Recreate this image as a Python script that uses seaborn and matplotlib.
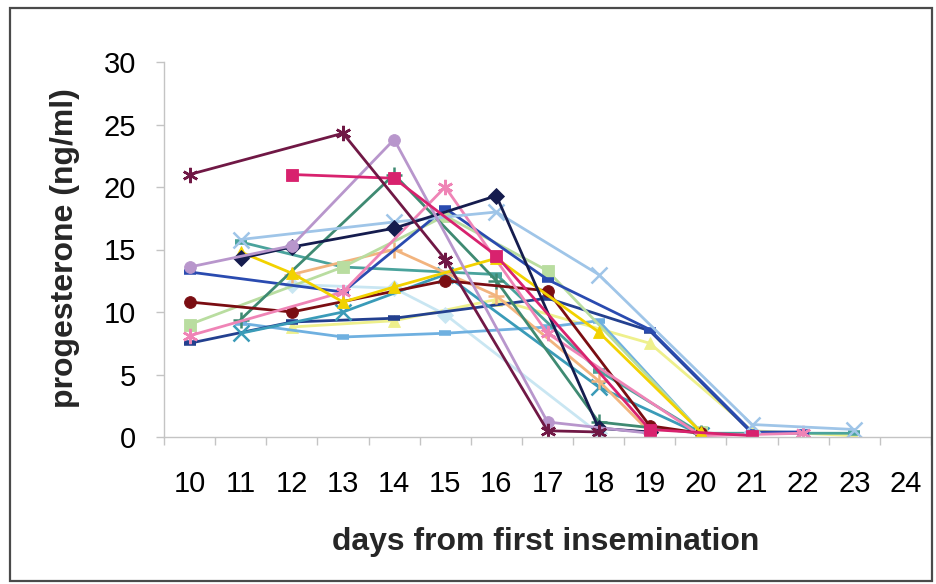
import numpy as np
import pandas as pd
import matplotlib
matplotlib.use("Agg")
import matplotlib.pyplot as plt
from matplotlib.patches import Rectangle
import seaborn as sns

# Progesterone profiles per cow (ng/ml), keyed by day from first insemination
days = list(range(10, 25))
day_labels = [str(d) for d in days]

cow_a = {10: 21.0, 13: 24.3, 15: 14.2, 17: 0.5, 18: 0.4}
cow_b = {12: 21.0, 14: 20.7, 16: 14.5, 19: 0.6, 21: 0.1}
cow_c = {11: 14.8, 12: 13.1, 13: 10.8, 14: 12.0, 16: 14.3, 18: 8.4, 20: 0.4}
cow_d = {11: 15.8, 14: 17.2, 16: 18.0, 18: 13.0, 21: 1.0, 23: 0.6}
cow_e = {11: 14.3, 12: 15.2, 14: 16.7, 16: 19.3, 18: 0.7, 19: 0.4}
cow_f = {10: 10.8, 12: 10.0, 15: 12.5, 17: 11.7, 19: 0.9, 20: 0.3}
cow_g = {11: 9.4, 14: 21.0, 16: 12.5, 18: 1.2, 20: 0.3}
cow_h = {10: 13.2, 13: 11.6, 15: 18.3, 17: 12.6, 19: 8.6, 21: 0.4, 22: 0.4}
cow_i = {10: 7.5, 12: 9.2, 14: 9.5, 17: 11.1, 19: 8.5, 21: 0.3}
cow_j = {11: 9.1, 13: 8.0, 15: 8.3, 17: 8.8, 18: 9.3, 20: 0.4}
cow_k = {10: 9.0, 13: 13.6, 15: 17.7, 17: 13.3, 20: 0.4}
cow_l = {10: 8.1, 13: 11.6, 15: 20.0, 17: 8.3, 20: 0.1, 22: 0.3}
cow_m = {10: 13.6, 12: 15.3, 14: 23.8, 17: 1.2, 19: 0.3}
cow_n = {12: 13.0, 14: 15.0, 16: 11.3, 18: 4.5, 19: 0.4}
cow_o = {12: 12.2, 14: 11.9, 15: 9.8, 18: 0.3}
cow_p = {11: 8.3, 13: 10.0, 15: 13.0, 18: 4.0, 20: 0.2}
cow_q = {11: 15.6, 13: 13.6, 16: 13.0, 18: 5.3, 20: 0.3, 23: 0.3}
cow_r = {12: 8.8, 14: 9.3, 16: 11.0, 19: 7.5, 21: 0.5, 23: 0.1}

asterisk = (6, 2, 0)
# (values, colour, marker)
cows = [
    (cow_r, "#eef08c", "^"),
    (cow_o, "#c9e6f2", "D"),
    (cow_j, "#6fb0e0", "_"),
    (cow_i, "#23408f", "_"),
    (cow_p, "#3a9bb8", "x"),
    (cow_q, "#4aa39c", "_"),
    (cow_n, "#f2b47e", "+"),
    (cow_k, "#b9dda0", "s"),
    (cow_h, "#2a4bb0", "_"),
    (cow_g, "#3f8a72", "+"),
    (cow_f, "#7a0d12", "o"),
    (cow_l, "#ef84b6", asterisk),
    (cow_d, "#9fc5e8", "x"),
    (cow_c, "#f2d200", "^"),
    (cow_e, "#151c4e", "D"),
    (cow_m, "#b896cc", "o"),
    (cow_b, "#d8226e", "s"),
    (cow_a, "#701845", asterisk),
]

sns.set_theme(style="white")
plt.rcParams["font.family"] = ["Liberation Sans", "DejaVu Sans"]

fig = plt.figure(figsize=(9.36, 5.84), dpi=100)
ax = fig.add_axes([164 / 936, 147 / 584, 767 / 936, 375 / 584])

for vals, col, mk in cows:
    df = pd.DataFrame({"day": list(vals.keys()), "p4": list(vals.values())})
    if mk == "_":
        size, mew = 9, 4
    elif mk in ("x", "+", asterisk):
        size, mew = 11, 1.8
    else:
        size, mew = 8.5, 0.6
    sns.lineplot(
        data=df, x="day", y="p4", ax=ax, color=col, linewidth=2.0,
        marker=mk, markersize=size, markeredgewidth=mew,
        markeredgecolor=col, markerfacecolor=col,
        estimator=None, sort=False, legend=False,
    )

ax.set_xlim(9.5, 24.5)
ax.set_ylim(0, 30)
ax.set_yticks(range(0, 31, 5))
ax.set_xticks(days)
ax.set_xticklabels(day_labels)
ax.set_xticks(np.arange(9.5, 24.6, 1.0), minor=True)

for s in ("top", "right"):
    ax.spines[s].set_visible(False)
for s in ("left", "bottom"):
    ax.spines[s].set_color("#c4c4c4")
    ax.spines[s].set_linewidth(1.0)

ax.tick_params(axis="y", which="major", direction="out", length=6, width=1,
               color="#c4c4c4", labelsize=21, pad=14, left=True)
ax.tick_params(axis="x", which="major", length=0, labelsize=21, pad=24)
ax.tick_params(axis="x", which="minor", direction="out", length=6, width=1,
               color="#c4c4c4", bottom=True)
for t in ax.get_xticklabels() + ax.get_yticklabels():
    t.set_color("black")

ax.set_xlabel("days from first insemination", fontsize=23, fontweight="bold",
              va="center")
ax.set_ylabel("progesterone (ng/ml)", fontsize=23, fontweight="bold",
              va="center")
ax.xaxis.set_label_coords(0.497, -0.28)
ax.yaxis.set_label_coords(-0.129, 0.504)
ax.grid(False)

fig.patches.append(Rectangle((10 / 936, 3 / 584), 922 / 936, 573 / 584,
                             transform=fig.transFigure, fill=False,
                             edgecolor="#4a4a4a", linewidth=1.6))

fig.savefig("out.png", dpi=100)
